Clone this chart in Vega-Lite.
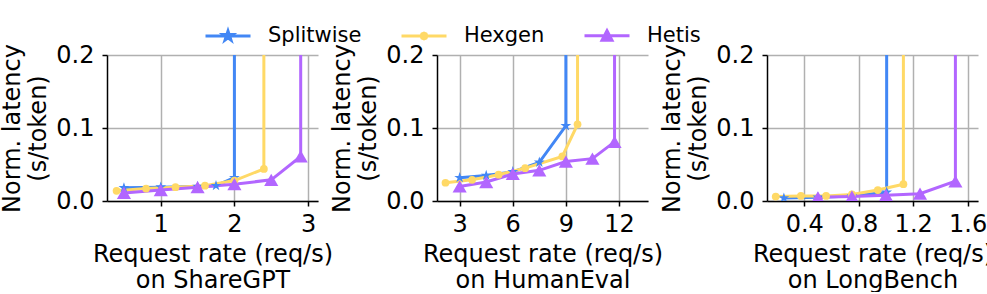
{
  "$schema": "https://vega.github.io/schema/vega-lite/v6.json",
  "padding": {"left": 0, "top": 11, "right": 0, "bottom": 0},
  "spacing": 119,
  "bounds": "flush",
  "config": {
    "font": "DejaVu Sans",
    "view": {"stroke": null},
    "axis": {
      "domainColor": "#000", "domainWidth": 1.5, "tickColor": "#000", "tickWidth": 1.5, "tickSize": 5,
      "labelFontSize": 24, "titleFontSize": 24, "titleFontWeight": "normal", "labelColor": "#000", "titleColor": "#000",
      "gridColor": "#b0b0b0", "gridWidth": 1.5, "titleLineHeight": 26
    },
    "axisX": {"labelPadding": 6, "titlePadding": 6},
    "axisY": {"labelPadding": 8, "titlePadding": 5},
    "legend": {"labelFontSize": 21, "labelColor": "#000"}
  },
  "data": {"values": [
    {"d": "ShareGPT", "m": "Splitwise", "i": 1, "x": 0.5, "y": 0.018},
    {"d": "ShareGPT", "m": "Splitwise", "i": 2, "x": 1.0, "y": 0.019},
    {"d": "ShareGPT", "m": "Splitwise", "i": 3, "x": 1.5, "y": 0.020},
    {"d": "ShareGPT", "m": "Splitwise", "i": 4, "x": 1.75, "y": 0.021},
    {"d": "ShareGPT", "m": "Splitwise", "i": 5, "x": 2.0, "y": 0.032},
    {"d": "ShareGPT", "m": "Splitwise", "i": 6, "x": 2.0, "y": 1},
    {"d": "ShareGPT", "m": "Hexgen", "i": 1, "x": 0.4, "y": 0.014},
    {"d": "ShareGPT", "m": "Hexgen", "i": 2, "x": 0.8, "y": 0.017},
    {"d": "ShareGPT", "m": "Hexgen", "i": 3, "x": 1.2, "y": 0.019},
    {"d": "ShareGPT", "m": "Hexgen", "i": 4, "x": 1.6, "y": 0.021},
    {"d": "ShareGPT", "m": "Hexgen", "i": 5, "x": 2.0, "y": 0.028},
    {"d": "ShareGPT", "m": "Hexgen", "i": 6, "x": 2.4, "y": 0.044},
    {"d": "ShareGPT", "m": "Hexgen", "i": 7, "x": 2.4, "y": 1},
    {"d": "ShareGPT", "m": "Hetis", "i": 1, "x": 0.5, "y": 0.011},
    {"d": "ShareGPT", "m": "Hetis", "i": 2, "x": 1.0, "y": 0.015},
    {"d": "ShareGPT", "m": "Hetis", "i": 3, "x": 1.5, "y": 0.019},
    {"d": "ShareGPT", "m": "Hetis", "i": 4, "x": 2.0, "y": 0.023},
    {"d": "ShareGPT", "m": "Hetis", "i": 5, "x": 2.5, "y": 0.029},
    {"d": "ShareGPT", "m": "Hetis", "i": 6, "x": 2.9, "y": 0.061},
    {"d": "ShareGPT", "m": "Hetis", "i": 7, "x": 2.9, "y": 1},
    {"d": "HumanEval", "m": "Splitwise", "i": 1, "x": 3, "y": 0.032},
    {"d": "HumanEval", "m": "Splitwise", "i": 2, "x": 4.5, "y": 0.035},
    {"d": "HumanEval", "m": "Splitwise", "i": 3, "x": 6, "y": 0.040},
    {"d": "HumanEval", "m": "Splitwise", "i": 4, "x": 7.5, "y": 0.053},
    {"d": "HumanEval", "m": "Splitwise", "i": 5, "x": 9, "y": 0.103},
    {"d": "HumanEval", "m": "Splitwise", "i": 6, "x": 9, "y": 1},
    {"d": "HumanEval", "m": "Hexgen", "i": 1, "x": 2.2, "y": 0.025},
    {"d": "HumanEval", "m": "Hexgen", "i": 2, "x": 3.7, "y": 0.029},
    {"d": "HumanEval", "m": "Hexgen", "i": 3, "x": 5.2, "y": 0.036},
    {"d": "HumanEval", "m": "Hexgen", "i": 4, "x": 6.7, "y": 0.045},
    {"d": "HumanEval", "m": "Hexgen", "i": 5, "x": 8.8, "y": 0.061},
    {"d": "HumanEval", "m": "Hexgen", "i": 6, "x": 9.66, "y": 0.105},
    {"d": "HumanEval", "m": "Hexgen", "i": 7, "x": 9.66, "y": 1},
    {"d": "HumanEval", "m": "Hetis", "i": 1, "x": 3, "y": 0.020},
    {"d": "HumanEval", "m": "Hetis", "i": 2, "x": 4.5, "y": 0.026},
    {"d": "HumanEval", "m": "Hetis", "i": 3, "x": 6, "y": 0.037},
    {"d": "HumanEval", "m": "Hetis", "i": 4, "x": 7.5, "y": 0.042},
    {"d": "HumanEval", "m": "Hetis", "i": 5, "x": 9, "y": 0.054},
    {"d": "HumanEval", "m": "Hetis", "i": 6, "x": 10.5, "y": 0.058},
    {"d": "HumanEval", "m": "Hetis", "i": 7, "x": 11.75, "y": 0.081},
    {"d": "HumanEval", "m": "Hetis", "i": 8, "x": 11.75, "y": 1},
    {"d": "LongBench", "m": "Splitwise", "i": 1, "x": 0.25, "y": 0.004},
    {"d": "LongBench", "m": "Splitwise", "i": 2, "x": 0.5, "y": 0.005},
    {"d": "LongBench", "m": "Splitwise", "i": 3, "x": 0.75, "y": 0.007},
    {"d": "LongBench", "m": "Splitwise", "i": 4, "x": 1.005, "y": 0.012},
    {"d": "LongBench", "m": "Splitwise", "i": 5, "x": 1.005, "y": 1},
    {"d": "LongBench", "m": "Hexgen", "i": 1, "x": 0.19, "y": 0.006},
    {"d": "LongBench", "m": "Hexgen", "i": 2, "x": 0.375, "y": 0.007},
    {"d": "LongBench", "m": "Hexgen", "i": 3, "x": 0.56, "y": 0.007},
    {"d": "LongBench", "m": "Hexgen", "i": 4, "x": 0.75, "y": 0.009},
    {"d": "LongBench", "m": "Hexgen", "i": 5, "x": 0.94, "y": 0.015},
    {"d": "LongBench", "m": "Hexgen", "i": 6, "x": 1.128, "y": 0.023},
    {"d": "LongBench", "m": "Hexgen", "i": 7, "x": 1.128, "y": 1},
    {"d": "LongBench", "m": "Hetis", "i": 1, "x": 0.5, "y": 0.005},
    {"d": "LongBench", "m": "Hetis", "i": 2, "x": 0.75, "y": 0.006},
    {"d": "LongBench", "m": "Hetis", "i": 3, "x": 1.0, "y": 0.008},
    {"d": "LongBench", "m": "Hetis", "i": 4, "x": 1.25, "y": 0.010},
    {"d": "LongBench", "m": "Hetis", "i": 5, "x": 1.51, "y": 0.027},
    {"d": "LongBench", "m": "Hetis", "i": 6, "x": 1.51, "y": 1}
  ]},
  "hconcat": [
    {
      "width": 211, "height": 146,
      "transform": [{"filter": "datum.d === 'ShareGPT'"}],
      "encoding": {
        "x": {"field": "x", "type": "quantitative", "scale": {"domain": [0.27, 3.135], "nice": false, "zero": false},
              "axis": {"values": [1, 2, 3], "title": ["Request rate (req/s)", "on ShareGPT"]}},
        "y": {"field": "y", "type": "quantitative", "scale": {"domain": [0, 0.2], "nice": false},
              "axis": {"values": [0, 0.1, 0.2], "format": ".1f", "title": ["Norm. latency", "(s/token)"]}},
        "color": {"field": "m", "type": "nominal",
                  "scale": {"domain": ["Splitwise", "Hexgen", "Hetis"], "range": ["#4287f5", "#ffd966", "#b266ff"]},
                  "legend": {"title": null, "orient": "none", "direction": "horizontal", "legendX": 97, "legendY": -43.5,
                             "symbolSize": 2025, "labelOffset": 16, "columnPadding": 33,
                             "encode": {"symbols": {"update": {
                               "shape": {"signal": "datum.value === 'Splitwise' ? 'M-1,0H1M0,-0.22L0.049,-0.068L0.209,-0.068L0.08,0.026L0.129,0.178L0,0.084L-0.129,0.178L-0.08,0.026L-0.209,-0.068L-0.049,-0.068Z' : datum.value === 'Hexgen' ? 'M-1,0H1M0.13,0L0.092,0.092L0,0.13L-0.092,0.092L-0.13,0L-0.092,-0.092L0,-0.13L0.092,-0.092Z' : 'M-1,0H1M0,-0.22L0.22,0.2L-0.22,0.2Z'"},
                               "size": {"value": 2025},
                               "fill": {"scale": "color", "field": "value"},
                               "stroke": {"scale": "color", "field": "value"},
                               "strokeWidth": {"value": 3},
                               "opacity": {"value": 1}}}}}}
      },
      "layer": [
        {"mark": {"type": "line", "strokeWidth": 3, "clip": true}, "encoding": {"order": {"field": "i", "type": "quantitative"}}},
        {"transform": [{"filter": "datum.m === 'Splitwise' && datum.y < 0.5"}],
         "mark": {"type": "point", "filled": true, "opacity": 1, "clip": true, "size": 130, "shape": "M0,-1L0.225,-0.309L0.951,-0.309L0.363,0.118L0.588,0.809L0,0.382L-0.588,0.809L-0.363,0.118L-0.951,-0.309L-0.225,-0.309Z"}},
        {"transform": [{"filter": "datum.m === 'Hexgen' && datum.y < 0.5"}],
         "mark": {"type": "point", "filled": true, "opacity": 1, "clip": true, "size": 60, "shape": "circle"}},
        {"transform": [{"filter": "datum.m === 'Hetis' && datum.y < 0.5"}],
         "mark": {"type": "point", "filled": true, "opacity": 1, "clip": true, "size": 200, "shape": "triangle-up"}}
      ]
    },
    {
      "width": 211, "height": 146,
      "transform": [{"filter": "datum.d === 'HumanEval'"}],
      "encoding": {
        "x": {"field": "x", "type": "quantitative", "scale": {"domain": [1.72, 13.64], "nice": false, "zero": false},
              "axis": {"values": [3, 6, 9, 12], "title": ["Request rate (req/s)", "on HumanEval"]}},
        "y": {"field": "y", "type": "quantitative", "scale": {"domain": [0, 0.2], "nice": false},
              "axis": {"values": [0, 0.1, 0.2], "format": ".1f", "title": ["Norm. latency", "(s/token)"]}},
        "color": {"field": "m", "type": "nominal",
                  "scale": {"domain": ["Splitwise", "Hexgen", "Hetis"], "range": ["#4287f5", "#ffd966", "#b266ff"]}}
      },
      "layer": [
        {"mark": {"type": "line", "strokeWidth": 3, "clip": true}, "encoding": {"order": {"field": "i", "type": "quantitative"}}},
        {"transform": [{"filter": "datum.m === 'Splitwise' && datum.y < 0.5"}],
         "mark": {"type": "point", "filled": true, "opacity": 1, "clip": true, "size": 130, "shape": "M0,-1L0.225,-0.309L0.951,-0.309L0.363,0.118L0.588,0.809L0,0.382L-0.588,0.809L-0.363,0.118L-0.951,-0.309L-0.225,-0.309Z"}},
        {"transform": [{"filter": "datum.m === 'Hexgen' && datum.y < 0.5"}],
         "mark": {"type": "point", "filled": true, "opacity": 1, "clip": true, "size": 60, "shape": "circle"}},
        {"transform": [{"filter": "datum.m === 'Hetis' && datum.y < 0.5"}],
         "mark": {"type": "point", "filled": true, "opacity": 1, "clip": true, "size": 200, "shape": "triangle-up"}}
      ]
    },
    {
      "width": 211, "height": 146,
      "transform": [{"filter": "datum.d === 'LongBench'"}],
      "encoding": {
        "x": {"field": "x", "type": "quantitative", "scale": {"domain": [0.126, 1.676], "nice": false, "zero": false},
              "axis": {"values": [0.4, 0.8, 1.2, 1.6], "format": ".1f", "title": ["Request rate (req/s)", "on LongBench"]}},
        "y": {"field": "y", "type": "quantitative", "scale": {"domain": [0, 0.2], "nice": false},
              "axis": {"values": [0, 0.1, 0.2], "format": ".1f", "title": ["Norm. latency", "(s/token)"]}},
        "color": {"field": "m", "type": "nominal",
                  "scale": {"domain": ["Splitwise", "Hexgen", "Hetis"], "range": ["#4287f5", "#ffd966", "#b266ff"]}}
      },
      "layer": [
        {"mark": {"type": "line", "strokeWidth": 3, "clip": true}, "encoding": {"order": {"field": "i", "type": "quantitative"}}},
        {"transform": [{"filter": "datum.m === 'Splitwise' && datum.y < 0.5"}],
         "mark": {"type": "point", "filled": true, "opacity": 1, "clip": true, "size": 130, "shape": "M0,-1L0.225,-0.309L0.951,-0.309L0.363,0.118L0.588,0.809L0,0.382L-0.588,0.809L-0.363,0.118L-0.951,-0.309L-0.225,-0.309Z"}},
        {"transform": [{"filter": "datum.m === 'Hexgen' && datum.y < 0.5"}],
         "mark": {"type": "point", "filled": true, "opacity": 1, "clip": true, "size": 60, "shape": "circle"}},
        {"transform": [{"filter": "datum.m === 'Hetis' && datum.y < 0.5"}],
         "mark": {"type": "point", "filled": true, "opacity": 1, "clip": true, "size": 200, "shape": "triangle-up"}}
      ]
    }
  ]
}
